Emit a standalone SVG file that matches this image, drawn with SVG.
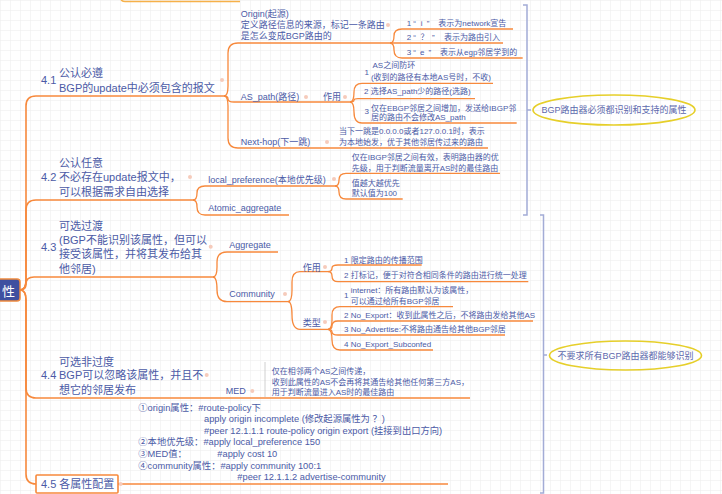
<svg xmlns="http://www.w3.org/2000/svg" width="722" height="494" viewBox="0 0 722 494">
<defs>
<pattern id="grid" width="10" height="10" patternUnits="userSpaceOnUse">
<path d="M10 0 H0 V10" fill="none" stroke="#ececec" stroke-width="1"/>
</pattern>
<style>
text{font-family:"Liberation Sans","Noto Sans CJK SC",sans-serif;fill:#4b5aa6}
.l1{font-size:11px}
.l2{font-size:9px}
.l3{font-size:8px}
.cf{font-size:9.3px}
.el{font-size:9px;fill:#5d69ad}
.c{fill:none;stroke:#f7893c;stroke-width:1.3}
.m{fill:none;stroke:#f7893c;stroke-width:1.6}
.br{fill:none;stroke:#a3acd6;stroke-width:1.5}
.dot{fill:#f6cbbb}
.ell{fill:none;stroke:#e6cf2a;stroke-width:1.6}
</style>
</defs>
<rect width="722" height="494" fill="#ffffff"/>
<rect width="722" height="494" fill="url(#grid)"/>

<path d="M121 -5 V-2 Q121 1.5 125 1.5 H240" fill="none" stroke="#f6b14a" stroke-width="1.6"/>

<g id="connectors">
<path class="m" d="M20 290 Q26 290 26 280 V106 Q26 96 36 96 H224"/>
<path class="m" d="M20 290 Q26 290 26 280 V210 Q26 200 36 200 H193"/>
<path class="m" d="M20 290 Q26 290 26 284 Q26 277 34 277 H213"/>
<path class="m" d="M20 290 Q26 290 26 300 V388 Q26 398 36 398 H470"/>
<path class="m" d="M20 290 Q26 290 26 300 V474 Q26 484 36 484"/>
<path class="m" d="M118 484 H448"/>
<path class="c" d="M224 96 Q228 96 228 86 V53 Q228 43 238 43 H390"/>
<path class="c" d="M224 96 Q228 96 228 99 Q228 102 234 102 H350"/>
<path class="c" d="M224 96 Q228 96 228 106 V138 Q228 148 238 148 H488"/>
<path class="c" d="M390 43 Q394 43 394 36 Q394 29 402 29 H513"/>
<path class="c" d="M390 43 H503"/>
<path class="c" d="M390 43 Q394 43 394 50 Q394 58 402 58 H522.7"/>
<path class="c" d="M350 102 Q354 102 354 92 Q354 83.3 362 83.3 H493"/>
<path class="c" d="M350 102 Q354 102 354 100 Q354 98.7 358 98.7 H475"/>
<path class="c" d="M350 102 Q354 102 354 112 Q354 123 362 123 H516.7"/>
<path class="c" d="M193 200 Q197 200 197 193 Q197 186 205 186 H335"/>
<path class="c" d="M193 200 Q197 200 197 207 Q197 215 205 215 H289"/>
<path class="c" d="M335 186 Q339 186 339 180 Q339 173.3 346 173.3 H500"/>
<path class="c" d="M335 186 Q339 186 339 192 Q339 199 346 199 H402.7"/>
<path class="c" d="M213 277 Q217 277 217 267 V262 Q217 252 227 252 H278"/>
<path class="c" d="M213 277 Q217 277 217 290 Q217 301.7 227 301.7 H288"/>
<path class="c" d="M288 301.7 Q292 301.7 292 290 V282 Q292 271.7 300 271.7 H328"/>
<path class="c" d="M288 301.7 Q292 301.7 292 315 Q292 329.3 300 329.3 H328"/>
<path class="c" d="M328 271.7 Q332 271.7 332 268 Q332 265 338 265 H421.7"/>
<path class="c" d="M328 271.7 Q332 271.7 332 276 Q332 281.7 338 281.7 H528.3"/>
<path class="c" d="M328 329.3 Q332 329.3 332 320 V315 Q332 306.7 340 306.7 H453"/>
<path class="c" d="M328 329.3 Q332 329.3 332 326 Q332 321 338 321 H533"/>
<path class="c" d="M328 329.3 Q332 329.3 332 332 Q332 335 338 335 H505"/>
<path class="c" d="M328 329.3 Q332 329.3 332 340 Q332 350 340 350 H433"/>
<path d="M265 362 V397" fill="none" stroke="#c4c4c4" stroke-width="0.8"/>
</g>

<g id="brackets">
<path class="br" d="M523 5 H527 V215 H523 M527 110 H531"/>
<path class="br" d="M540 215 H543.5 V493 H540 M543.5 355 H547"/>
</g>

<g id="dots">
<circle class="dot" cx="222" cy="80" r="2"/>
<circle class="dot" cx="388" cy="25" r="2"/>
<circle class="dot" cx="306" cy="97" r="2"/>
<circle class="dot" cx="345" cy="97" r="2"/>
<circle class="dot" cx="327" cy="142" r="2"/>
<circle class="dot" cx="190" cy="177" r="2"/>
<circle class="dot" cx="334" cy="179" r="2"/>
<circle class="dot" cx="210.7" cy="246.7" r="2"/>
<circle class="dot" cx="285" cy="294" r="2"/>
<circle class="dot" cx="325" cy="267" r="2"/>
<circle class="dot" cx="325" cy="322" r="2"/>
<circle class="dot" cx="206.7" cy="375" r="2"/>
<circle class="dot" cx="252.3" cy="391" r="2"/>
<circle class="dot" cx="120.7" cy="484" r="2"/>
</g>

<g id="root">
<rect x="-6" y="279" width="26" height="22" rx="3" fill="#3f50a0" stroke="#f08a3e" stroke-width="1.5"/>
<text x="2" y="296" style="font-size:13px;fill:#ffffff">性</text>
</g>

<g id="n41">
<text class="l1" x="41" y="84">4.1</text>
<text class="l1" x="59" y="77">公认必遵</text>
<text class="l1" x="59" y="92">BGP的update中必须包含的报文</text>
</g>
<g id="origin">
<text class="l2" x="240.7" y="16.7">Origin(起源)</text>
<text class="l2" x="240.7" y="28">定义路径信息的来源，标记一条路由</text>
<text class="l2" x="240.7" y="39.4">是怎么变成BGP路由的</text>
</g>
<g id="origin1"><text class="l3" y="25.8"><tspan x="406.7">1</tspan><tspan x="413.3">“</tspan><tspan x="420.7">i</tspan><tspan x="426.7">”</tspan><tspan x="438.3">表示为network宣告</tspan></text></g>
<g id="origin2"><text class="l3" y="40"><tspan x="406.7">2</tspan><tspan x="413.3">“</tspan><tspan x="420.5">？</tspan><tspan x="432">”</tspan><tspan x="444">表示为路由引入</tspan></text></g>
<g id="origin3"><text class="l3" y="54.8"><tspan x="406.7">3</tspan><tspan x="413.3">“</tspan><tspan x="420">e</tspan><tspan x="428.5">”</tspan><tspan x="440">表示从egp邻居学到的</tspan></text></g>
<g id="aspath"><text class="l2" x="240.7" y="100">AS_path(路径)</text></g>
<g id="aspath-use"><text class="l2" x="323" y="100.4">作用</text></g>
<g id="aspath1">
<text class="l3" x="364.5" y="74.8">1</text>
<text class="l3" x="372.5" y="67.5">AS之间防环</text>
<text class="l3" x="370.9" y="79.8">(收到的路径有本地AS号时，不收)</text>
</g>
<g id="aspath2"><text class="l3" x="364" y="93.8">2 选择AS_path少的路径(选路)</text></g>
<g id="aspath3">
<text class="l3" x="364.5" y="114.2">3</text>
<text class="l3" x="370.9" y="110.5">仅在EBGP邻居之间增加，发送给IBGP邻</text>
<text class="l3" x="370.9" y="119.9">居的路由不会修改AS_path</text>
</g>
<g id="nexthop"><text class="l2" x="240.7" y="145">Next-hop(下一跳)</text></g>
<g id="nexthop-desc">
<text class="l3" x="339" y="134.2">当下一跳是0.0.0.0或者127.0.0.1时，表示</text>
<text class="l3" x="339" y="144.9">为本地始发，优于其他邻居传过来的路由</text>
</g>

<g id="n42">
<text class="l1" x="59" y="167.3">公认任意</text>
<text class="l1" x="41" y="181.3">4.2</text>
<text class="l1" x="59" y="181.3">不必存在update报文中，</text>
<text class="l1" x="59" y="196">可以根据需求自由选择</text>
</g>
<g id="localpref"><text class="l2" x="208.3" y="182.7">local_preference(本地优先级)</text></g>
<g id="localpref1">
<text class="l3" x="351.7" y="159.9">仅在IBGP邻居之间有效，表明路由器的优</text>
<text class="l3" x="351.7" y="170.5">先级，用于判断流量离开AS时的最佳路由</text>
</g>
<g id="localpref2">
<text class="l3" x="351.7" y="185.9">值越大越优先</text>
<text class="l3" x="351.7" y="195.5">默认值为100</text>
</g>
<g id="atomic"><text class="l2" x="208.3" y="211">Atomic_aggregate</text></g>

<g id="n43">
<text class="l1" x="59" y="230">可选过渡</text>
<text class="l1" x="59" y="244">(BGP不能识别该属性，但可以</text>
<text class="l1" x="41" y="250.7">4.3</text>
<text class="l1" x="59" y="258.3">接受该属性，并将其发布给其</text>
<text class="l1" x="59" y="272.7">他邻居)</text>
</g>
<g id="aggregate"><text class="l2" x="229.3" y="248.4">Aggregate</text></g>
<g id="community"><text class="l2" x="229.3" y="297.4">Community</text></g>
<g id="comm-use"><text class="l2" x="302.7" y="270.7">作用</text></g>
<g id="comm-use1"><text class="l3" x="344" y="263.1">1 限定路由的传播范围</text></g>
<g id="comm-use2"><text class="l3" x="344" y="278.1">2 打标记，便于对符合相同条件的路由进行统一处理</text></g>
<g id="comm-type"><text class="l2" x="302.7" y="325.7">类型</text></g>
<g id="comm-type1">
<text class="l3" x="344" y="297.5">1</text>
<text class="l3" x="350.7" y="293.1">internet：所有路由默认为该属性，</text>
<text class="l3" x="350.7" y="304.1">可以通过给所有BGP邻居</text>
</g>
<g id="comm-type2"><text class="l3" x="344" y="318.1">2 No_Export：收到此属性之后，不将路由发给其他AS</text></g>
<g id="comm-type3"><text class="l3" x="344" y="332.4">3 No_Advertise:不将路由通告给其他BGP邻居</text></g>
<g id="comm-type4"><text class="l3" x="344" y="347.1">4 No_Export_Subconfed</text></g>

<g id="n44">
<text class="l1" x="59" y="365.7">可选非过度</text>
<text class="l1" x="41" y="379">4.4</text>
<text class="l1" x="59" y="379">BGP可以忽略该属性，并且不</text>
<text class="l1" x="59" y="394">想它的邻居发布</text>
</g>
<g id="med"><text class="l2" x="225.7" y="394.4">MED</text></g>
<g id="med-desc">
<text class="l3" x="271.7" y="374.1">仅在相邻两个AS之间传递，</text>
<text class="l3" x="271.7" y="384.9">收到此属性的AS不会再将其通告给其他任何第三方AS，</text>
<text class="l3" x="271.7" y="395.4">用于判断流量进入AS时的最佳路由</text>
</g>

<g id="n45">
<rect x="36" y="475" width="82" height="18" fill="#ffffff" stroke="#f7893c" stroke-width="1.6" rx="1"/>
<text class="l1" x="41" y="488.3">4.5 各属性配置</text>
</g>
<g id="config">
<text class="cf" x="138.3" y="410.8">①origin属性：#route-policy下</text>
<text class="cf" x="204" y="422.4">apply origin incomplete (修改起源属性为 ？)</text>
<text class="cf" x="204" y="433.8">#peer 12.1.1.1 route-policy origin export (挂接到出口方向)</text>
<text class="cf" x="138.3" y="444.8">②本地优先级：#apply local_preference 150</text>
<text class="cf" x="138.3" y="457.1">③MED值：</text>
<text class="cf" x="217.3" y="457.1">#apply cost 10</text>
<text class="cf" x="138.3" y="469.1">④community属性：#apply community 100:1</text>
<text class="cf" x="237.3" y="480.4">#peer 12.1.1.2 advertise-community</text>
</g>

<g id="summary1">
<ellipse class="ell" cx="614" cy="110" rx="81" ry="15"/>
<text class="el" x="614" y="113.2" text-anchor="middle">BGP路由器必须都识别和支持的属性</text>
</g>
<g id="summary2">
<ellipse class="ell" cx="625.5" cy="355.5" rx="76" ry="14.5"/>
<text class="el" x="625.5" y="358.7" text-anchor="middle">不要求所有BGP路由器都能够识别</text>
</g>
</svg>
